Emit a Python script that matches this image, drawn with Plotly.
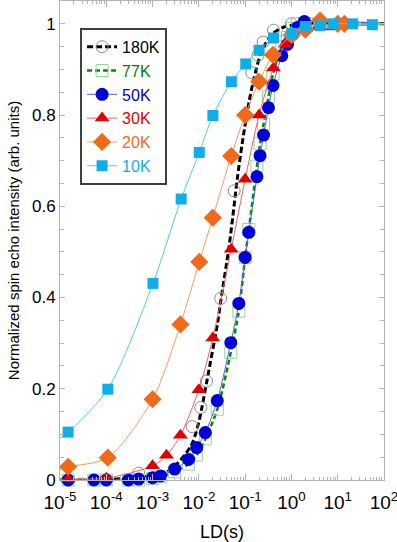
import plotly.graph_objects as go

# ---------------- data ----------------
x_180 = [1.5e-5, 5e-4, 7.2e-3, 0.011, 0.0146, 0.0296, 0.058, 0.139, 0.19, 0.245, 0.41, 1.0, 2.0, 5.0]
y_180 = [0.0, 0.015, 0.117, 0.159, 0.217, 0.398, 0.634, 0.893, 0.931, 0.96, 0.986, 1.0, 1.0, 1.0]

# dashed fitted curve of the 180K data
fit_180_x = [1e-5, 1e-4, 6.3e-4, 1.26e-3, 2.45e-3, 6.6e-3, 9.2e-3, 1.17e-2, 1.51e-2, 2.5e-2, 2.95e-2,
             4.47e-2, 5.75e-2, 6.76e-2, 8.7e-2, 0.122, 0.155, 0.219, 0.363, 0.69, 2.0, 10.0, 100.0]
fit_180_y = [0.0, 0.001, 0.007, 0.011, 0.022, 0.073, 0.113, 0.16, 0.22, 0.34, 0.39,
             0.51, 0.60, 0.66, 0.74, 0.83, 0.88, 0.935, 0.975, 0.993, 1.0, 1.0, 1.0]

x_50 = [1.5e-5, 5.4e-5, 1e-4, 3e-4, 5e-4, 1e-3, 1.5e-3, 3e-3, 6e-3, 9e-3, 0.0138, 0.025, 0.049,
        0.073, 0.1, 0.12, 0.18, 0.21, 0.25, 0.32, 0.40, 0.62, 0.82, 1.06, 1.35, 1.9]
y_50 = [0.0, 0.0, 0.0, 0.0, 0.002, 0.005, 0.009, 0.024, 0.045, 0.071, 0.104, 0.174, 0.301,
        0.387, 0.488, 0.543, 0.665, 0.711, 0.756, 0.816, 0.865, 0.930, 0.955, 0.977, 0.992, 1.005]

x_77 = [1.5e-5, 5.4e-5, 1e-4, 3e-4, 5e-4, 1e-3, 1.5e-3, 3e-3, 6e-3, 9e-3, 0.0138, 0.025, 0.049,
        0.073, 0.1, 0.12, 0.18, 0.21, 0.25, 0.32, 0.40, 0.62, 0.82, 1.06, 1.35, 1.9, 2.5]
y_77 = [0.0, 0.0, 0.0, 0.0, 0.0, 0.003, 0.007, 0.018, 0.035, 0.055, 0.09, 0.155, 0.28,
        0.37, 0.488, 0.549, 0.688, 0.737, 0.78, 0.84, 0.89, 0.95, 0.97, 0.99, 1.0, 1.0, 1.0]

x_30 = [1.5e-5, 1e-4, 1e-3, 2e-3, 4e-3, 1e-2, 2e-2, 5e-2, 0.1, 0.2, 0.41, 0.73, 1.0, 2.0, 4.0, 8.0]
y_30 = [0.002, 0.004, 0.031, 0.054, 0.098, 0.198, 0.311, 0.506, 0.659, 0.80, 0.903, 0.955, 0.976, 0.99, 0.995, 0.993]

x_20 = [1.5e-5, 1.08e-4, 1e-3, 4e-3, 1.02e-2, 2e-2, 5e-2, 0.1, 0.2, 0.4, 1.0, 2.0, 4.15, 10.0, 14.0]
y_20 = [0.029, 0.049, 0.177, 0.341, 0.478, 0.575, 0.71, 0.80, 0.873, 0.932, 0.975, 0.987, 1.007, 1.0, 1.0]

x_10 = [1.5e-5, 1.08e-4, 1.02e-3, 4.15e-3, 1.02e-2, 2.01e-2, 5.05e-2, 0.103, 0.2, 0.41, 1.02, 2.0, 4.15, 8.0, 21.0, 56.0]
y_10 = [0.105, 0.199, 0.431, 0.616, 0.718, 0.799, 0.873, 0.912, 0.942, 0.969, 0.979, 0.994, 0.996, 1.0, 1.0, 0.998]

# fitted-curve end values at the axis edges
edge_x = [1e-5, 1e2]
edge_77 = [0.0, 1.0]
edge_50 = [0.0, 1.0]
edge_30 = [0.001, 1.0]
edge_20 = [0.024, 1.0]
edge_10 = [0.092, 1.0]

x_ticks = [1e-5, 1e-4, 1e-3, 1e-2, 1e-1, 1e0, 1e1, 1e2]
x_tick_text = ["10<sup>-5</sup>", "10<sup>-4</sup>", "10<sup>-3</sup>", "10<sup>-2</sup>",
               "10<sup>-1</sup>", "10<sup>0</sup>", "10<sup>1</sup>", "10<sup>2</sup>"]
y_ticks = [0, 0.2, 0.4, 0.6, 0.8, 1.0]
y_tick_text = ["0", "0.2", "0.4", "0.6", "0.8", "1"]

FONT = "Liberation Sans, Arial, sans-serif"

series = [
    dict(name="180K", x=x_180, y=y_180, fx=fit_180_x, fy=fit_180_y, txt="#000000",
         line=dict(color="#000000", width=3, dash="6px,3px"),
         marker=dict(symbol="circle-open", size=12, color="#8c8c8c", line=dict(width=1, color="#8c8c8c"))),
    dict(name="77K", x=x_77, y=y_77, edge=edge_77, txt="#008000",
         line=dict(color="#008a00", width=2.5, dash="5px,3px"),
         marker=dict(symbol="square-open", size=12, color="#96d296", line=dict(width=1, color="#96d296"))),
    dict(name="50K", x=x_50, y=y_50, edge=edge_50, txt="#0000dd",
         line=dict(color="#5a5aff", width=1),
         marker=dict(symbol="circle", size=13, color="#0000d8", line=dict(width=0))),
    dict(name="30K", x=x_30, y=y_30, edge=edge_30, txt="#e00000",
         line=dict(color="#f06060", width=1),
         marker=dict(symbol="triangle-up", size=13, color="#e00000", line=dict(width=0))),
    dict(name="20K", x=x_20, y=y_20, edge=edge_20, txt="#f06a1a",
         line=dict(color="#f89a60", width=1),
         marker=dict(symbol="diamond", size=14, color="#f06a1a", line=dict(width=0))),
    dict(name="10K", x=x_10, y=y_10, edge=edge_10, txt="#10aee8",
         line=dict(color="#50c8f0", width=1),
         marker=dict(symbol="square", size=11, color="#10aee8", line=dict(width=0))),
]

fig = go.Figure()

for s in series:
    if "fx" in s:
        lx, ly = s["fx"], s["fy"]
    else:
        lx = [edge_x[0]] + s["x"] + [edge_x[1]]
        ly = [s["edge"][0]] + s["y"] + [s["edge"][1]]
    ln = dict(s["line"])
    ln["shape"] = "spline"
    ln["smoothing"] = 0.8
    fig.add_trace(go.Scatter(x=lx, y=ly, mode="lines", line=ln, showlegend=False,
                             hoverinfo="skip", cliponaxis=True))
    fig.add_trace(go.Scatter(x=s["x"], y=s["y"], mode="markers", marker=s["marker"],
                             showlegend=False, cliponaxis=False))

# legend-only entries
for s in series:
    fig.add_trace(go.Scatter(x=[None], y=[None], mode="lines+markers",
                             name='<span style="color:%s">%s</span>' % (s["txt"], s["name"]),
                             line=s["line"], marker=s["marker"]))

axis_common = dict(showline=True, linecolor="#b4b4b4", linewidth=1, mirror="allticks",
                   ticks="inside", tickcolor="#b4b4b4", showgrid=False, zeroline=False,
                   automargin=False, ticklabeloverflow="allow")

fig.update_xaxes(type="log", range=[-5, 2], tickvals=x_ticks, ticktext=x_tick_text, tickangle=0,
                 tickfont=dict(size=19, color="#000", family=FONT), ticklen=6, ticklabelstandoff=5,
                 minor=dict(ticks="inside", ticklen=3, tickcolor="#b4b4b4", dtick="D1", showgrid=False),
                 title=dict(text="LD(s)", font=dict(size=18, color="#000", family=FONT), standoff=15),
                 **axis_common)
fig.update_yaxes(range=[0, 1.05], tickvals=y_ticks, ticktext=y_tick_text,
                 tickfont=dict(size=17, color="#000", family=FONT), ticklen=5,
                 minor=dict(ticks="inside", ticklen=4, tickcolor="#b4b4b4", dtick=0.05, showgrid=False),
                 title=dict(text="Normalized spin echo intensity (arb. units)",
                            font=dict(size=15, color="#000", family=FONT), standoff=8),
                 **axis_common)

fig.update_layout(
    width=397, height=542,
    margin=dict(l=60, r=13, t=1, b=62),
    paper_bgcolor="white", plot_bgcolor="white",
    font=dict(family=FONT, size=16, color="#000"),
    showlegend=True,
    legend=dict(x=0.062, y=0.944, xanchor="left", yanchor="top",
                bgcolor="white", bordercolor="#404040", borderwidth=2,
                font=dict(size=16, family=FONT), itemwidth=30,
                tracegroupgap=0),
)

fig.write_html("out.html")
